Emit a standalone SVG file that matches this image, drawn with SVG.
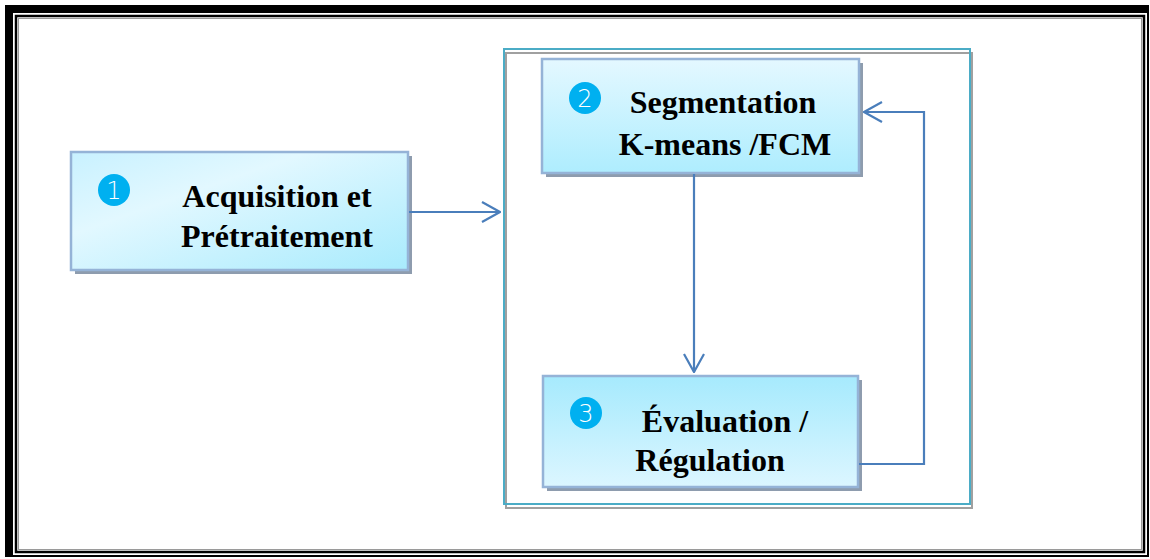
<svg xmlns="http://www.w3.org/2000/svg" width="1150" height="559" viewBox="0 0 1150 559">
  <defs>
    <linearGradient id="g1" x1="0" y1="0" x2="1" y2="1">
      <stop offset="0" stop-color="#c8f1ff"/>
      <stop offset="0.35" stop-color="#e2f8ff"/>
      <stop offset="1" stop-color="#a8ebfd"/>
    </linearGradient>
    <linearGradient id="g2" x1="0" y1="0" x2="0" y2="1">
      <stop offset="0" stop-color="#e4f8ff"/>
      <stop offset="1" stop-color="#aeedfe"/>
    </linearGradient>
    <linearGradient id="g3" x1="0" y1="0" x2="0" y2="1">
      <stop offset="0" stop-color="#a6eafd"/>
      <stop offset="1" stop-color="#dcf6ff"/>
    </linearGradient>
    <marker id="arr" viewBox="0 0 20 22" refX="19" refY="11" markerWidth="20" markerHeight="22" markerUnits="userSpaceOnUse" orient="auto">
      <path d="M1,1 L19,11 L1,21" fill="none" stroke="#4a7ebb" stroke-width="2.2"/>
    </marker>
  </defs>
  <style>
    .shadow { fill: #8e9cae; }
    .box { stroke: #95b3d7; stroke-width: 2.5; }
    .lbl { font-family: "Liberation Serif", "Times New Roman", serif; font-weight: bold; font-size: 32px; fill: #000; text-anchor: middle; }
    .num { fill: #00b0f0; }
    .numt { font-family: "DejaVu Sans", "Liberation Sans", sans-serif; font-weight: 300; font-size: 24px; fill: #fff; text-anchor: middle; }
    .conn { fill: none; stroke: #4a7ebb; stroke-width: 2.2; }
  </style>
  <rect width="1150" height="559" fill="#fff"/>
  <g id="frame">
    <rect x="5" y="5" width="1144" height="8" fill="#000"/>
    <rect x="5" y="5" width="8" height="552" fill="#000"/>
    <line x1="1148" y1="5" x2="1148" y2="557" stroke="#000" stroke-width="2"/>
    <line x1="5" y1="556" x2="1149" y2="556" stroke="#000" stroke-width="2"/>
    <rect x="16" y="16" width="1128" height="536" fill="none" stroke="#000" stroke-width="2.5"/>
    <rect x="18.5" y="18.5" width="1123" height="531" fill="none" stroke="#9a9a9a" stroke-width="1"/>
  </g>
  <g id="container">
    <rect x="506" y="53" width="466" height="455" fill="none" stroke="#a0a0a0" stroke-width="2"/>
    <rect x="504" y="49" width="466" height="455" fill="none" stroke="#4bacc6" stroke-width="2"/>
  </g>
  <g id="node1">
    <rect class="shadow" x="75" y="156" width="337" height="118"/>
    <rect class="box" x="71" y="152" width="337" height="118" fill="url(#g1)"/>
    <circle class="num" cx="114" cy="190" r="16"/>
    <text class="numt" x="114" y="199">1</text>
    <text class="lbl" x="277" y="207">Acquisition et</text>
    <text class="lbl" x="277" y="247">Prétraitement</text>
  </g>
  <g id="node2">
    <rect class="shadow" x="546" y="63" width="317" height="114"/>
    <rect class="box" x="542" y="59" width="317" height="114" fill="url(#g2)"/>
    <circle class="num" cx="585" cy="98" r="16"/>
    <text class="numt" x="585" y="107">2</text>
    <text class="lbl" x="723" y="113">Segmentation</text>
    <text class="lbl" x="725" y="155">K-means /FCM</text>
  </g>
  <g id="node3">
    <rect class="shadow" x="547" y="380" width="315" height="111"/>
    <rect class="box" x="543" y="376" width="315" height="111" fill="url(#g3)"/>
    <circle class="num" cx="586" cy="413" r="16"/>
    <text class="numt" x="586" y="422">3</text>
    <text class="lbl" x="725" y="432">Évaluation /</text>
    <text class="lbl" x="710" y="471">Régulation</text>
  </g>
  <g id="connectors">
    <line class="conn" x1="409" y1="212" x2="500" y2="212" marker-end="url(#arr)"/>
    <line class="conn" x1="694" y1="174" x2="694" y2="372" marker-end="url(#arr)"/>
    <polyline class="conn" points="859,464 924,464 924,112 864,112" marker-end="url(#arr)"/>
  </g>
</svg>
